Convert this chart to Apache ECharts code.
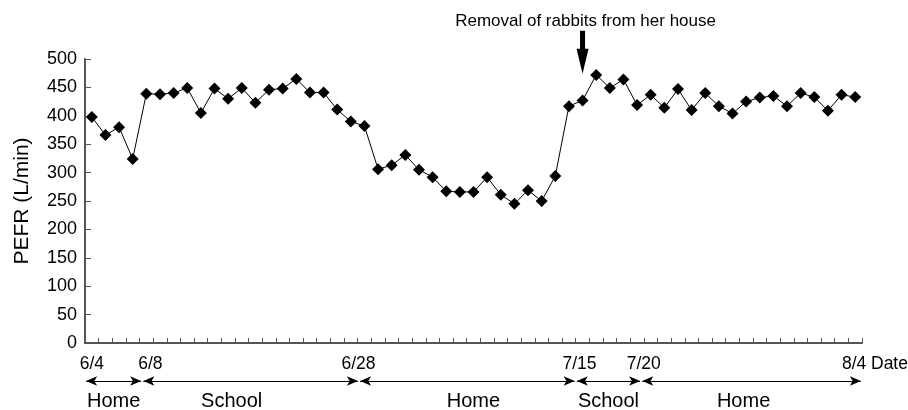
<!DOCTYPE html>
<html>
<head>
<meta charset="utf-8">
<title>PEFR</title>
<script src="https://cdn.jsdelivr.net/npm/echarts@6/dist/echarts.min.js"></script>
<style>
  html, body { margin: 0; padding: 0; background: #fff; }
  #chart { width: 908px; height: 410px; }
</style>
</head>
<body>
<div id="chart"></div>
<script>
'use strict';

/*-----------------------------------------------
|   Data
-----------------------------------------------*/

// PEFR readings, one per measurement day (57 days shown)
const pefr = [
  398, 366, 380, 324, 439, 438, 440, 449, 405, 448,
  430, 449, 423, 446, 448, 465, 441, 441, 411, 390,
  382, 306, 313, 331, 305, 292, 267, 266, 266, 292,
  261, 245, 269, 250, 294, 417, 427, 472, 449, 464,
  419, 437, 414, 447, 410, 440, 417, 404, 425, 432,
  435, 417, 440, 433, 409, 437, 433
];

// Date labels and the day index they sit under
const dateLabelIdx = [0, 4, 20, 36, 41, 56];
const dateLabelText = ['6/4', '6/8', '6/28', '7/15', '7/20', '8/4'];

// Where she stayed: boundaries on the day scale (0..57) and place names
const stayBounds = [0, 4.2, 20.1, 36, 40.8, 57];
const stayNames = ['Home', 'School', 'Home', 'School', 'Home'];

// Annotation
const noteIdx = 36;
const noteText = 'Removal of rabbits from her house';

const yTicks = { min: 0, max: 500, interval: 50 };

/*-----------------------------------------------
|   Styling nudges (px), labels were hand placed in the original
-----------------------------------------------*/

const dateLabelNudge = [0, 4, -6, -3, -7, -1];
const stayLabelNudge = [0, -19, 6, 0, -8];

/*-----------------------------------------------
|   Build
-----------------------------------------------*/

const FONT = '"Liberation Sans", Arial, Helvetica, sans-serif';
const AXIS_COLOR = '#555';

const categories = pefr.map((v, i) => {
  const k = dateLabelIdx.indexOf(i);
  return k >= 0 ? dateLabelText[k] : '';
});

// rich styles to shift a centred label left (l) or right (r)
const nudgeRich = {};
const nudgeName = (n) => (n < 0 ? 'l' : 'r') + Math.abs(n);
dateLabelNudge.forEach((n) => {
  if (!n) return;
  nudgeRich[nudgeName(n)] = {
    fontFamily: FONT,
    fontSize: 17.5,
    color: '#000',
    padding: n < 0 ? [0, -2 * n, 0, 0] : [0, 0, 0, 2 * n],
  };
});

const formatDateLabel = (val, idx) => {
  const k = dateLabelIdx.indexOf(idx);
  if (k < 0) return '';
  const n = dateLabelNudge[k];
  return n ? `{${nudgeName(n)}|${val}}` : val;
};

const stayLines = stayNames.map((name, i) => [
  {
    name,
    coord: [stayBounds[i] + 0.08, 0.5],
    label: { offset: [stayLabelNudge[i], 0] },
  },
  { coord: [stayBounds[i + 1] - 0.08, 0.5] },
]);

const chart = echarts.init(document.getElementById('chart'), null, { renderer: 'canvas' });

const option = {
  animation: false,
  backgroundColor: '#fff',
  textStyle: { fontFamily: FONT, color: '#000' },
  grid: [
    { left: 85, right: 46, top: 59, bottom: 67, containLabel: false, outerBoundsMode: 'none' },
    { left: 85, right: 46, top: 376, height: 10, containLabel: false, outerBoundsMode: 'none' },
  ],
  xAxis: [
    {
      type: 'category',
      data: categories,
      boundaryGap: true,
      name: 'Date',
      nameLocation: 'end',
      nameGap: 9,
      nameMoveOverlap: false,
      nameTextStyle: {
        fontFamily: FONT, fontSize: 17.5, color: '#000',
        verticalAlign: 'top', padding: [12, 0, 0, 0],
      },
      axisLine: { lineStyle: { color: AXIS_COLOR, width: 2 } },
      axisTick: { show: true, inside: true, length: 5, interval: 0, lineStyle: { color: AXIS_COLOR, width: 1 } },
      axisLabel: {
        interval: 0,
        margin: 12,
        fontFamily: FONT,
        fontSize: 17.5,
        color: '#000',
        formatter: formatDateLabel,
        rich: nudgeRich,
      },
      splitLine: { show: false },
    },
    {
      type: 'value',
      gridIndex: 1,
      min: 0,
      max: 57,
      show: false,
    },
  ],
  yAxis: [
    {
      type: 'value',
      min: yTicks.min,
      max: yTicks.max,
      interval: yTicks.interval,
      name: 'PEFR (L/min)',
      nameLocation: 'middle',
      nameGap: 52,
      nameTextStyle: { fontFamily: FONT, fontSize: 21, color: '#000' },
      axisLine: { show: true, lineStyle: { color: AXIS_COLOR, width: 2 } },
      axisTick: { show: true, inside: true, length: 6, lineStyle: { color: AXIS_COLOR, width: 1 } },
      axisLabel: { margin: 8, fontFamily: FONT, fontSize: 18, color: '#000' },
      splitLine: { show: false },
    },
    {
      type: 'value',
      gridIndex: 1,
      min: 0,
      max: 1,
      show: false,
    },
  ],
  series: [
    {
      type: 'line',
      data: pefr,
      symbol: 'diamond',
      symbolSize: 12,
      itemStyle: { color: '#000' },
      lineStyle: { color: '#000', width: 1 },
      markPoint: {
        silent: true,
        symbol: 'path://M3.5,0 L8.5,0 L8.5,18 L12,18 L6,43 L0,18 L3.5,18 Z',
        symbolSize: [12, 43],
        symbolOffset: [0, -18],
        itemStyle: { color: '#000' },
        label: {
          show: true,
          position: 'top',
          distance: 1,
          offset: [3, 0],
          formatter: noteText,
          fontFamily: FONT,
          fontSize: 17,
          color: '#000',
        },
        data: [{ coord: [noteIdx, 480] }],
      },
    },
    {
      // carrier for the stay arrows under the axis
      type: 'line',
      xAxisIndex: 1,
      yAxisIndex: 1,
      data: [[0, 0]],
      showSymbol: false,
      lineStyle: { opacity: 0 },
      markLine: {
        silent: true,
        symbol: ['arrow', 'arrow'],
        symbolSize: [7, 11],
        lineStyle: { color: '#000', width: 1, type: 'solid' },
        label: {
          show: true,
          position: 'insideMiddleBottom',
          distance: 10,
          formatter: '{b}',
          fontFamily: FONT,
          fontSize: 20,
          color: '#000',
        },
        emphasis: { disabled: true },
        data: stayLines,
      },
    },
  ],
};

chart.setOption(option);
</script>
</body>
</html>
